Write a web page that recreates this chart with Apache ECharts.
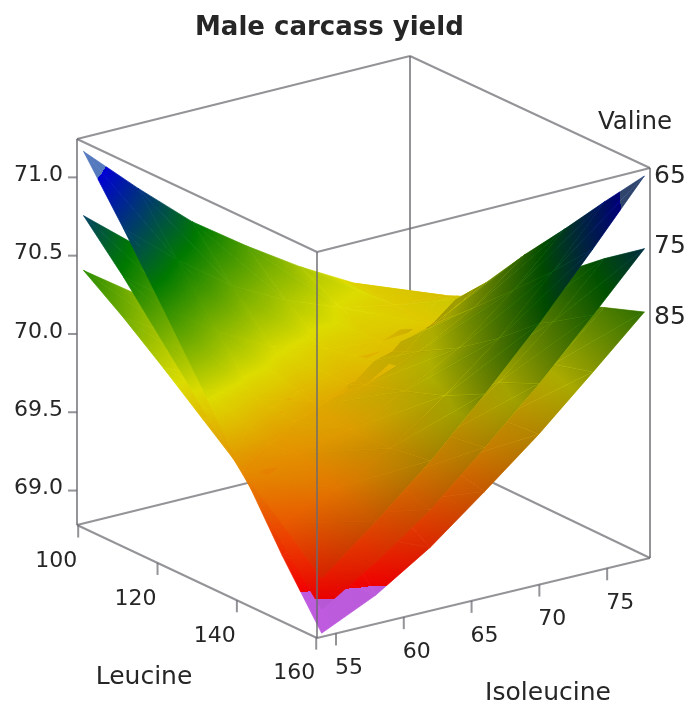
<!DOCTYPE html>
<html>
<head>
<meta charset="utf-8">
<title>Male carcass yield</title>
<script src="https://cdn.jsdelivr.net/npm/echarts@6/dist/echarts.min.js"></script>
<style>
  html, body { margin: 0; background: #fff; }
  #chart { width: 695px; height: 711px; }
</style>
</head>
<body>
<div id="chart"></div>
<script>
// grid of the response surfaces
const leucine = [100, 110, 120, 130, 140, 150, 160];
const isoleucine = [54, 58, 62, 66, 70, 74, 77.8];
const valine = [65, 75, 85];

// rows = leucine, columns = isoleucine
const yield65 = [
  [70.40, 70.16, 69.94, 69.77, 69.63, 69.52, 69.46],
  [70.22, 70.01, 69.84, 69.74, 69.69, 69.69, 69.75],
  [70.02, 69.86, 69.76, 69.74, 69.78, 69.87, 70.05],
  [69.81, 69.74, 69.72, 69.77, 69.90, 70.09, 70.35],
  [69.60, 69.62, 69.69, 69.85, 70.04, 70.32, 70.63],
  [69.38, 69.52, 69.69, 69.94, 70.22, 70.56, 70.92],
  [69.15, 69.43, 69.73, 70.07, 70.43, 70.82, 71.20],
];
const yield75 = [
  [70.75, 70.47, 70.21, 70.01, 69.83, 69.68, 69.60],
  [70.48, 70.23, 70.02, 69.87, 69.79, 69.75, 69.78],
  [70.18, 69.98, 69.84, 69.78, 69.78, 69.84, 69.98],
  [69.88, 69.76, 69.70, 69.72, 69.80, 69.95, 70.18],
  [69.58, 69.55, 69.58, 69.70, 69.85, 70.09, 70.36],
  [69.26, 69.35, 69.49, 69.69, 69.94, 70.24, 70.56],
  [68.95, 69.17, 69.42, 69.73, 70.05, 70.40, 70.74],
];
const yield85 = [
  [71.16, 70.84, 70.54, 70.30, 70.08, 69.89, 69.75],
  [70.79, 70.50, 70.25, 70.07, 69.94, 69.87, 69.85],
  [70.40, 70.16, 69.98, 69.88, 69.84, 69.86, 69.96],
  [70.00, 69.85, 69.75, 69.72, 69.77, 69.88, 70.06],
  [69.60, 69.54, 69.53, 69.61, 69.72, 69.92, 70.15],
  [69.18, 69.25, 69.34, 69.51, 69.71, 69.97, 70.25],
  [68.80, 68.96, 69.18, 69.45, 69.73, 70.04, 70.34],
];
const surfaces = [yield65, yield75, yield85];

// tick labels
const yieldTicks = ['69.0', '69.5', '70.0', '70.5', '71.0'];
const leucineTicks = [100, 120, 140, 160];
const isoleucineTicks = [55, 60, 65, 70, 75];

// axis ranges of the box
const leuRange = [99.7, 160.2];
const isoRange = [53.6, 78.16];
const yieldRange = [68.78, 71.245];

// corners of the box on the page [x, y bottom, y top]
const boxLeft = [77, 525, 139];
const boxFront = [317, 638, 252];
const boxBack = [410, 443, 56];
const boxRight = [650, 558, 168];

const FONT = '"DejaVu Sans"';
const TEXT_COLOR = '#262626';

const toU = (leu) => (leu - leuRange[0]) / (leuRange[1] - leuRange[0]);
const toV = (iso) => (iso - isoRange[0]) / (isoRange[1] - isoRange[0]);

function project(leu, iso, z) {
  const u = toU(leu), v = toV(iso);
  const w = (z - yieldRange[0]) / (yieldRange[1] - yieldRange[0]);
  const mix = (k) => (1 - u) * (1 - v) * boxLeft[k] + u * (1 - v) * boxFront[k]
    + (1 - u) * v * boxBack[k] + u * v * boxRight[k];
  return [mix(0), mix(1) + (mix(2) - mix(1)) * w];
}

// lighting: the light sits on the viewer's right
const LIGHT = [0.4, 0.32, 0.8];
function shade(s, i, j) {
  const g = surfaces[s];
  const i0 = Math.max(i - 1, 0), i1 = Math.min(i + 1, leucine.length - 1);
  const j0 = Math.max(j - 1, 0), j1 = Math.min(j + 1, isoleucine.length - 1);
  const span = yieldRange[1] - yieldRange[0];
  const du = (g[i1][j] - g[i0][j]) / span / ((i1 - i0) / 6);
  const dv = (g[i][j1] - g[i][j0]) / span / ((j1 - j0) / 6);
  const len = Math.sqrt(du * du + dv * dv + 1);
  const dot = (-du * LIGHT[0] - dv * LIGHT[1] + LIGHT[2]) / len;
  return Math.min(0.95, 0.42 + 0.72 * dot);
}

function vertex(i, j) {
  return {
    leu: leucine[i],
    iso: isoleucine[j],
    z: surfaces.map((g) => g[i][j]),
    b: surfaces.map((g, s) => shade(s, i, j)),
  };
}

function between(p, q, t) {
  const mix = (a, b) => a + (b - a) * t;
  return {
    leu: mix(p.leu, q.leu),
    iso: mix(p.iso, q.iso),
    z: p.z.map((z, k) => mix(z, q.z[k])),
    b: p.b.map((b, k) => mix(b, q.b[k])),
  };
}

// cut a polygon where surfaces a and b cross
function cut(poly, a, b) {
  const diff = poly.map((p) => p.z[a] - p.z[b]);
  if (diff.every((d) => d >= 0) || diff.every((d) => d <= 0)) return [poly];
  const up = [], down = [];
  poly.forEach((p, k) => {
    const n = (k + 1) % poly.length;
    if (diff[k] >= 0) up.push(p);
    if (diff[k] <= 0) down.push(p);
    if (diff[k] * diff[n] < 0) {
      const m = between(p, poly[n], diff[k] / (diff[k] - diff[n]));
      up.push(m);
      down.push(m);
    }
  });
  return [up, down];
}

// nearer to the viewer = high leucine, low isoleucine
function nearness(part) {
  return part.reduce((sum, p) => sum + toU(p.leu) - toV(p.iso), 0) / part.length;
}

// back to front: painter's order, lower surface first inside a column
const pieces = [];
function addTriangle(tri) {
  let parts = [tri];
  [[0, 1], [1, 2], [0, 2]].forEach(([a, b]) => {
    parts = parts.flatMap((p) => cut(p, a, b));
  });
  parts.sort((a, b) => nearness(a) - nearness(b));
  parts.forEach((part) => {
    const mean = (s) => part.reduce((sum, p) => sum + p.z[s], 0) / part.length;
    [0, 1, 2].sort((a, b) => mean(a) - mean(b)).forEach((s) => pieces.push({ s, pts: part, tri }));
  });
}
for (let i = 0; i < leucine.length - 1; i++) {
  for (let j = isoleucine.length - 2; j >= 0; j--) {
    const a = vertex(i, j), b = vertex(i, j + 1), c = vertex(i + 1, j + 1), d = vertex(i + 1, j);
    addTriangle([a, b, c]);
    addTriangle([a, d, c]);
  }
}

// colour ramp over the yield
const RAMP_LO = 68.5, RAMP_HI = 71.5;
const rampAt = (z) => (z - RAMP_LO) / (RAMP_HI - RAMP_LO);
const rampStops = [
  { offset: 0, color: '#c860ea' },
  { offset: rampAt(69), color: '#c860ea' },
  { offset: rampAt(69), color: '#ff0000' },
  { offset: rampAt(69.95), color: '#e8e800' },
  { offset: rampAt(70.5), color: '#008000' },
  { offset: rampAt(71.03), color: '#0000e0' },
  { offset: rampAt(71.03), color: '#5a80c8' },
  { offset: 1, color: '#5a80c8' },
];

// plain colour of the ramp, for a triangle that is nearly level
function rampColor(z) {
  const t = rampAt(z);
  for (let k = 0; k + 1 < rampStops.length; k++) {
    const a = rampStops[k], b = rampStops[k + 1];
    if (t <= b.offset && b.offset > a.offset) {
      return echarts.color.lerp((t - a.offset) / (b.offset - a.offset), [a.color, b.color]);
    }
  }
  return rampStops[rampStops.length - 1].color;
}

// gradient running across a triangle from value lo to value hi
function planeGradient(pts, vals, lo, hi, stops) {
  const [[x0, y0], [x1, y1], [x2, y2]] = pts;
  const det = (x1 - x0) * (y2 - y0) - (x2 - x0) * (y1 - y0);
  const gx = ((vals[1] - vals[0]) * (y2 - y0) - (vals[2] - vals[0]) * (y1 - y0)) / det;
  const gy = ((x1 - x0) * (vals[2] - vals[0]) - (x2 - x0) * (vals[1] - vals[0])) / det;
  const n2 = gx * gx + gy * gy;
  if (n2 < 1e-9) return null;
  return new echarts.graphic.LinearGradient(
    x0 + (lo - vals[0]) * gx / n2, y0 + (lo - vals[0]) * gy / n2,
    x0 + (hi - vals[0]) * gx / n2, y0 + (hi - vals[0]) * gy / n2,
    stops, true
  );
}

function renderSurface(params, api) {
  const { s, pts, tri } = pieces[params.dataIndex];
  const toPx = (p) => api.coord(project(p.leu, p.iso, p.z[s]));
  const px = pts.map(toPx);
  const triPx = tri.map(toPx);
  const zs = tri.map((p) => p.z[s]);
  const bs = tri.map((p) => p.b[s]);
  const zMean = zs.reduce((a, b) => a + b, 0) / 3;
  const bMean = bs.reduce((a, b) => a + b, 0) / 3;
  const fill = planeGradient(triPx, zs, RAMP_LO, RAMP_HI, rampStops) || rampColor(zMean);
  const dark = planeGradient(triPx, bs, 0, 1, [
    { offset: 0, color: 'rgba(0,0,0,1)' },
    { offset: 1, color: 'rgba(0,0,0,0)' },
  ]) || `rgba(0,0,0,${1 - bMean})`;
  return {
    type: 'group',
    children: [
      { type: 'polygon', shape: { points: px }, style: { fill, stroke: fill, lineWidth: 0.7 } },
      { type: 'polygon', shape: { points: px }, style: { fill: dark, stroke: dark, lineWidth: 0.3 } },
    ],
  };
}

// box edges, ends given as [leucine, isoleucine, yield]
const [l0, l1] = leuRange, [i0, i1] = isoRange, [z0, z1] = yieldRange;
const backEdges = [
  [[l0, i0, z1], [l0, i1, z1]], [[l0, i1, z1], [l1, i1, z1]],
  [[l0, i1, z0], [l0, i1, z1]], [[l0, i0, z0], [l0, i1, z0]], [[l0, i1, z0], [l1, i1, z0]],
  [[l0, i0, z0], [l0, i0, z1]], [[l1, i1, z0], [l1, i1, z1]],
];
const frontEdges = [
  [[l0, i0, z1], [l1, i0, z1]], [[l1, i0, z1], [l1, i1, z1]], [[l1, i0, z0], [l1, i0, z1]],
  [[l0, i0, z0], [l1, i0, z0]], [[l1, i0, z0], [l1, i1, z0]],
];
const LINE_COLOR = 'rgba(105,105,112,0.72)';

function renderEdges(edges) {
  return (params, api) => {
    const [a, b] = edges[params.dataIndex];
    const p = api.coord(project(...a)), q = api.coord(project(...b));
    return {
      type: 'line',
      shape: { x1: p[0], y1: p[1], x2: q[0], y2: q[1] },
      style: { stroke: LINE_COLOR, lineWidth: 2 },
    };
  };
}

function label(text, x, y, size, align) {
  return {
    type: 'text',
    style: {
      text: String(text), x, y, fill: TEXT_COLOR,
      font: `${size}px ${FONT}`, textAlign: align || 'center', textVerticalAlign: 'middle',
    },
  };
}
function tick(x1, y1, x2, y2) {
  return { type: 'line', shape: { x1, y1, x2, y2 }, style: { stroke: LINE_COLOR, lineWidth: 2 } };
}

// ticks and their labels
function renderAxes(params, api) {
  const children = [];
  yieldTicks.forEach((t) => {
    const p = api.coord(project(l0, i0, Number(t)));
    children.push(tick(p[0] - 9, p[1], p[0], p[1]));
    children.push(label(t, p[0] - 14, p[1] - 2, 22, 'right'));
  });
  leucineTicks.forEach((t) => {
    const p = api.coord(project(t, i0, z0));
    children.push(tick(p[0], p[1], p[0], p[1] + 12));
    children.push(label(t, p[0] - 22, p[1] + 36, 22));
  });
  isoleucineTicks.forEach((t) => {
    const p = api.coord(project(l1, t, z0));
    children.push(tick(p[0], p[1], p[0], p[1] + 12));
    children.push(label(t, p[0] + 13, p[1] + 35, 22));
  });
  valine.forEach((t, k) => {
    const tip = api.coord(project(leucine[6], isoleucine[6], surfaces[k][6][6]));
    children.push(label(t, 654, tip[1] + [1, -2, 5][k], 25, 'left'));
  });
  children.push(label('Valine', 635, 123, 24.5));
  children.push(label('Leucine', 144, 677, 25));
  children.push(label('Isoleucine', 548, 693, 25));
  return { type: 'group', children };
}

const chart = echarts.init(document.getElementById('chart'));
const customBase = { type: 'custom', silent: true, clip: false, progressive: 0, encode: { x: 0, y: 1 } };
chart.setOption({
  animation: false,
  backgroundColor: '#fff',
  title: {
    text: 'Male carcass yield',
    left: 190,
    top: 10,
    textStyle: { fontFamily: FONT, fontSize: 26, fontWeight: 'bold', color: TEXT_COLOR },
  },
  grid: { left: 0, right: 0, top: 0, bottom: 0 },
  xAxis: { type: 'value', min: 0, max: 695, show: false },
  yAxis: { type: 'value', min: 0, max: 711, inverse: true, show: false },
  series: [
    { ...customBase, z: 1, data: backEdges.map((e, k) => [k, 0]), renderItem: renderEdges(backEdges) },
    { ...customBase, z: 2, data: pieces.map((p, k) => [k, 0]), renderItem: renderSurface },
    { ...customBase, z: 3, data: frontEdges.map((e, k) => [k, 0]), renderItem: renderEdges(frontEdges) },
    { ...customBase, z: 4, data: [[0, 0]], renderItem: renderAxes },
  ],
});
</script>
</body>
</html>
